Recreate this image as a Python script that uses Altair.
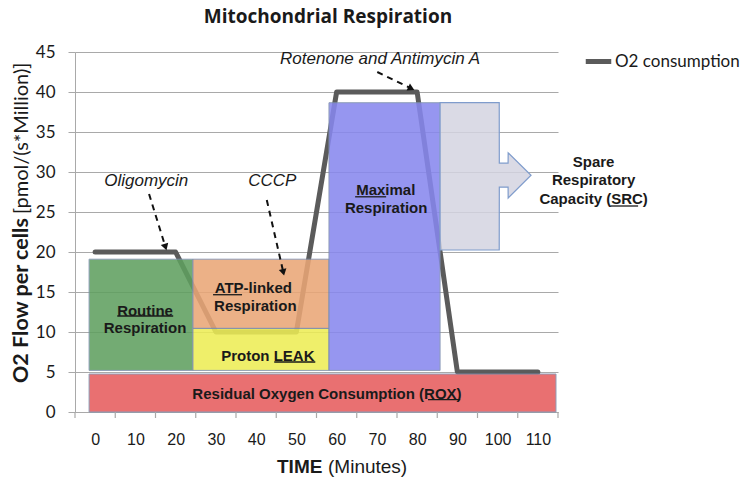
import math
import altair as alt
import pandas as pd

# ---------------- data ----------------
o2_time = [0, 20, 30, 50, 60, 80, 90, 110]
o2_flow = [20, 20, 10, 10, 40, 40, 5, 5]
series_name = "O2 consumption"

region_names = ["ROX", "Routine", "ATP", "LEAK", "Max"]
region_x0 = [-1.5, -1.5, 24.3, 24.3, 58.1]
region_x1 = [114.5, 24.3, 58.1, 58.1, 85.7]
region_y0 = [0, 5.2, 10.45, 5.2, 5.2]
region_y1 = [4.75, 19.1, 19.1, 10.45, 38.66]
region_colors = ["#e65b5c", "#5f9f5f", "#eaa676", "#eded55", "#8787ee"]

# spare respiratory capacity box + arrow outline
src_x = [85.7, 100.4, 100.42, 102.6, 102.62, 108.3]
src_top = [38.66, 38.66, 31.1, 31.1, 32.4, 29.6]
src_bot = [20.25, 20.25, 28.1, 28.1, 26.75, 29.6]

bold_texts = ["Routine", "Respiration", "ATP-linked", "Respiration", "Proton LEAK",
              "Residual Oxygen Consumption (ROX)", "Maximal", "Respiration",
              "Spare", "Respiratory", "Capacity (SRC)"]
bold_x = [12.4, 12.4, 39.3, 39.8, 42.9, 57.6, 72.2, 72.3, 123.85, 123.85, 123.85]
bold_y = [12.6, 10.5, 15.5, 13.25, 7.0, 2.25, 27.75, 25.5, 31.2, 29.0, 26.6]

ul_x0 = [5.5, 29.3, 44.5, 82.7, 64.6, 128.0]
ul_x1 = [19.4, 36.5, 54.7, 90.7, 72.3, 134.9]
ul_y = [12.0, 14.66, 6.25, 1.55, 26.9, 25.75]

italic_texts = ["Oligomycin", "CCCP", "Rotenone and Antimycin A"]
italic_x = [12.7, 44.0, 70.8]
italic_y = [28.9, 28.9, 44.1]

arrow_x0 = [13.4, 42.65, 70.1]
arrow_y0 = [27.25, 26.5, 42.5]
arrow_x1 = [17.4, 46.7, 78.3]
arrow_y1 = [20.75, 17.6, 40.5]

x_labels = list(range(0, 111, 10))
x_tick_edges = list(range(-5, 116, 10))
y_ticks = list(range(0, 46, 5))

y_title_bold = "O2 Flow per cells"
y_title_norm = "[pmol/(s*Million)]"
x_title_bold = "TIME"
x_title_norm = "(Minutes)"
chart_title = "Mitochondrial Respiration"

# ---------------- layout ----------------
W, H = 483, 360
XD = [-5, 115]
YD = [0, 45]
px_per_x = W / (XD[1] - XD[0])
px_per_y = H / (YD[1] - YD[0])

xs = alt.Scale(domain=XD, nice=False, zero=False)
ys = alt.Scale(domain=YD, nice=False, zero=False)

GRID = "#a9a9a9"
TXT = "#1a1a1a"

line_df = pd.DataFrame({"t": o2_time, "v": o2_flow, "series": series_name})
reg_df = pd.DataFrame({"name": region_names, "x0": region_x0, "x1": region_x1,
                       "y0": region_y0, "y1": region_y1, "col": region_colors})
src_df = pd.DataFrame({"x": src_x, "top": src_top, "bot": src_bot})
bold_df = pd.DataFrame({"txt": bold_texts, "x": bold_x, "y": bold_y})
ul_df = pd.DataFrame({"x0": ul_x0, "x1": ul_x1, "y": ul_y})
ital_df = pd.DataFrame({"txt": italic_texts, "x": italic_x, "y": italic_y})

arr_rows = []
head_rows = []
for i in range(len(arrow_x0)):
    arr_rows.append({"id": i, "k": 0, "x": arrow_x0[i], "y": arrow_y0[i]})
    arr_rows.append({"id": i, "k": 1, "x": arrow_x1[i], "y": arrow_y1[i]})
    dxp = (arrow_x1[i] - arrow_x0[i]) * px_per_x
    dyp = -(arrow_y1[i] - arrow_y0[i]) * px_per_y
    ang = math.degrees(math.atan2(dxp, -dyp)) % 360
    head_rows.append({"x": arrow_x1[i], "y": arrow_y1[i], "ang": ang})
arr_df = pd.DataFrame(arr_rows)
head_df = pd.DataFrame(head_rows)

tick_df = pd.DataFrame({"x": x_tick_edges})

# ---------------- axes ----------------
x_axis = alt.Axis(values=x_labels, ticks=False, grid=False, domainColor=GRID,
                  labelFontSize=16, labelFont="Liberation Sans", labelColor=TXT,
                  labelPadding=19, labelOverlap=False, title=None)
y_axis = alt.Axis(values=y_ticks, grid=True, gridColor=GRID, gridWidth=1.2,
                  tickSize=7, tickColor=GRID, domainColor=GRID,
                  labelFontSize=17, labelFont="Lato", labelColor=TXT,
                  labelPadding=13, labelOverlap=False, title=None)


def X(field):
    return alt.X(field, scale=xs, axis=x_axis)


def Y(field):
    return alt.Y(field, scale=ys, axis=y_axis)


# ---------------- layers ----------------
line = alt.Chart(line_df).mark_line(strokeWidth=5, strokeCap="round", strokeJoin="round").encode(
    x=X("t:Q"),
    y=Y("v:Q"),
    color=alt.Color("series:N", scale=alt.Scale(range=["#5b5b5b"]),
                    legend=alt.Legend(orient="none", legendX=508, legendY=-6,
                                      symbolType="stroke", symbolStrokeWidth=5,
                                      symbolSize=650, labelFontSize=17, labelFont="Lato",
                                      labelColor=TXT, labelOffset=1, padding=0,
                                      title=None)),
)

rects = alt.Chart(reg_df).mark_rect(opacity=0.87, stroke="#7d8fae", strokeWidth=1).encode(
    x=X("x0:Q"), x2="x1:Q",
    y=Y("y0:Q"), y2="y1:Q",
    fill=alt.Fill("col:N", scale=None),
)

src = alt.Chart(src_df).mark_area(fill="#d3d3e0", fillOpacity=0.85, stroke="#7f9ccc",
                                  strokeWidth=1.2, interpolate="linear").encode(
    x=X("x:Q"), y=Y("top:Q"), y2="bot:Q",
)

ticks = alt.Chart(tick_df).mark_rule(color=GRID, strokeWidth=1.2).encode(
    x=X("x:Q"), y=alt.value(H), y2=alt.value(H + 6),
)

bold = alt.Chart(bold_df).mark_text(font="Liberation Sans", fontWeight="bold",
                                    fontSize=15, color=TXT, baseline="middle").encode(
    x=X("x:Q"), y=Y("y:Q"), text="txt:N",
)

uline = alt.Chart(ul_df).mark_rule(color=TXT, strokeWidth=1.3).encode(
    x=X("x0:Q"), x2="x1:Q", y=Y("y:Q"),
)

ital = alt.Chart(ital_df).mark_text(font="Liberation Sans", fontStyle="italic",
                                    fontSize=17, color=TXT, baseline="middle").encode(
    x=X("x:Q"), y=Y("y:Q"), text="txt:N",
)

arrows = alt.Chart(arr_df).mark_line(color="#111111", strokeWidth=2, strokeDash=[6, 5]).encode(
    x=X("x:Q"), y=Y("y:Q"), detail="id:N", order="k:Q",
)

heads = alt.Chart(head_df).mark_point(shape="triangle", filled=True, size=60,
                                      color="#111111", opacity=1).encode(
    x=X("x:Q"), y=Y("y:Q"), angle=alt.Angle("ang:Q", scale=None),
)

one = pd.DataFrame({"a": [0]})
title_txt = alt.Chart(one).mark_text(text=chart_title, align="center", baseline="alphabetic",
                                     fontSize=19, font="Open Sans", fontWeight="bold",
                                     color=TXT).encode(x=alt.value(253), y=alt.value(-29))
yt1 = alt.Chart(one).mark_text(text=y_title_bold, angle=270, align="left", baseline="middle",
                               fontSize=21.5, font="Lato", fontWeight="bold", color=TXT).encode(
    x=alt.value(-53), y=alt.value(331))
yt2 = alt.Chart(one).mark_text(text=y_title_norm, angle=270, align="left", baseline="middle",
                               fontSize=20, font="Lato", color=TXT).encode(
    x=alt.value(-53), y=alt.value(162))
xt1 = alt.Chart(one).mark_text(text=x_title_bold, align="left", baseline="middle",
                               fontSize=19, font="Liberation Sans", fontWeight="bold",
                               color=TXT).encode(x=alt.value(202), y=alt.value(415))
xt2 = alt.Chart(one).mark_text(text=x_title_norm, align="left", baseline="middle",
                               fontSize=19, font="Liberation Sans", color=TXT).encode(
    x=alt.value(253), y=alt.value(415))

chart = alt.layer(
    line, rects, src, ticks, uline, bold, ital, arrows, heads,
    title_txt, yt1, yt2, xt1, xt2
).properties(
    width=W, height=H,
    background="white",
    autosize=alt.AutoSizeParams(type="none"),
    padding={"left": 67, "top": 44, "right": 184, "bottom": 66},
).configure_view(stroke=None)

chart.save("out.html", embed_options={"renderer": "svg", "actions": False})
